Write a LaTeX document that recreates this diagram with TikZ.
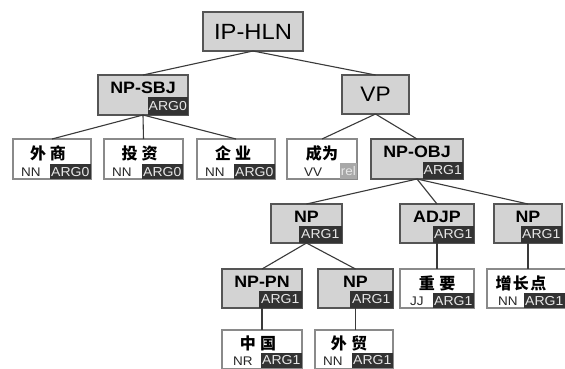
\documentclass[tikz,border=0pt]{standalone}
\usepackage{fontspec}
\setmainfont{Liberation Sans}[FakeStretch=1.08]
\newfontfamily\cjk{Noto Sans CJK SC}
\definecolor{phrfill}{HTML}{D3D3D3}
\definecolor{phrdraw}{HTML}{555555}
\definecolor{leafdraw}{HTML}{8A8A8A}
\definecolor{tagfill}{HTML}{333333}
\definecolor{tagtext}{HTML}{E8E8E8}
\definecolor{relfill}{HTML}{A8A8A8}
\definecolor{linecol}{HTML}{3A3A3A}
\tikzset{
  phr/.style={rectangle, draw=phrdraw, fill=phrfill, line width=1.3pt, inner sep=0pt, outer sep=0pt, anchor=north west},
  leaf/.style={rectangle, draw=leafdraw, fill=white, line width=1.3pt, inner sep=0pt, outer sep=0pt, anchor=north west, minimum height=40pt},
  tagbox/.style={rectangle, fill=tagfill, text=tagtext, inner sep=0pt, anchor=south east, minimum width=41pt, minimum height=17pt, font=\fontsize{13}{13}\selectfont},
  ltag/.style={tagbox, minimum height=14.5pt, font=\fontsize{13}{13}\selectfont},
  reltag/.style={tagbox, fill=relfill, minimum width=17pt, minimum height=16pt, font=\fontsize{12.5}{12.5}\selectfont},
  hl/.style={font=\fontsize{16.5}{17}\selectfont\bfseries, anchor=base, inner sep=0pt},
  biglab/.style={font=\fontsize{21}{22}\selectfont, inner sep=0pt},
  zh/.style={font=\cjk\bfseries\fontsize{16}{16}\selectfont, inner sep=0pt},
  poslab/.style={font=\fontsize{12.5}{13}\selectfont, anchor=base west, inner sep=0pt, text=black!85},
  link/.style={draw=linecol, line width=1.1pt}
}
\begin{document}
\begin{tikzpicture}[x=1pt,y=-1pt]
\useasboundingbox (0,0) rectangle (565,369);
\fill[white] (0,0) rectangle (565,369);
\clip (0,0) rectangle (565,369);

% phrase boxes
\node[phr, minimum width=100pt, minimum height=39pt] (ip) at (203,12) {};
\node[biglab, font=\fontsize{22}{23}\selectfont] (ipl) at (ip.center) {IP-HLN};

\node[phr, minimum width=90pt, minimum height=40pt] (npsbj) at (98,75) {};
\node[hl] (npsbjl) at ([yshift=-18pt]npsbj.north) {NP-SBJ};
\node[tagbox, minimum width=40pt, minimum height=18pt] (npsbjt) at (npsbj.south east) {ARG0};

\node[phr, minimum width=67pt, minimum height=39pt] (vp) at (342,75) {};
\node[biglab] (vpl) at (vp.center) {VP};

\node[phr, minimum width=92pt, minimum height=40pt] (npobj) at (371,139) {};
\node[hl] (npobjl) at ([yshift=-18pt]npobj.north) {NP-OBJ};
\node[tagbox, minimum width=40pt] (npobjt) at (npobj.south east) {ARG1};

\node[phr, minimum width=71pt, minimum height=39pt] (npa) at (271,204) {};
\node[hl] (npal) at ([yshift=-18pt]npa.north) {NP};
\node[tagbox, minimum width=43pt] (npat) at (npa.south east) {ARG1};

\node[phr, minimum width=74pt, minimum height=39pt] (adjp) at (400,204) {};
\node[hl] (adjpl) at ([yshift=-18pt]adjp.north) {ADJP};
\node[tagbox] (adjpt) at (adjp.south east) {ARG1};

\node[phr, minimum width=68pt, minimum height=39pt] (npb) at (494,204) {};
\node[hl] (npbl) at ([yshift=-18pt]npb.north) {NP};
\node[tagbox] (npbt) at (npb.south east) {ARG1};

\node[phr, minimum width=80pt, minimum height=39pt] (nppn) at (222,269) {};
\node[hl] (nppnl) at ([yshift=-18pt]nppn.north) {NP-PN};
\node[tagbox, minimum width=43pt] (nppnt) at (nppn.south east) {ARG1};

\node[phr, minimum width=75pt, minimum height=39pt] (npc) at (318,269) {};
\node[hl] (npcl) at ([yshift=-18pt]npc.north) {NP};
\node[tagbox, minimum width=43pt] (npct) at (npc.south east) {ARG1};

% leaves
\node[leaf, minimum width=78pt] (ws) at (13,139) {};
\node[zh] (wsz) at ([xshift=-4pt,yshift=-14pt]ws.north) {外\hspace{4pt}商};
\node[poslab] (wsp) at ([xshift=8pt,yshift=3pt]ws.south west) {NN};
\node[ltag] (wst) at (ws.south east) {ARG0};

\node[leaf, minimum width=79pt] (tz) at (104,139) {};
\node[zh] (tzz) at ([xshift=-4pt,yshift=-14pt]tz.north) {投\hspace{4pt}资};
\node[poslab] (tzp) at ([xshift=8pt,yshift=3pt]tz.south west) {NN};
\node[ltag] (tzt) at (tz.south east) {ARG0};

\node[leaf, minimum width=78pt] (qy) at (197,139) {};
\node[zh] (qyz) at ([xshift=-3pt,yshift=-14pt]qy.north) {企\hspace{4pt}业};
\node[poslab] (qyp) at ([xshift=8pt,yshift=3pt]qy.south west) {NN};
\node[ltag] (qyt) at (qy.south east) {ARG0};

\node[leaf, minimum width=70pt] (cw) at (287,139) {};
\node[zh] (cwz) at ([yshift=-14pt]cw.north) {成\hspace{0.5pt}为};
\node[poslab] (cwp) at ([xshift=17pt,yshift=3pt]cw.south west) {VV};
\node[reltag] (cwt) at (cw.south east) {rel};

\node[leaf, minimum width=74pt, minimum height=39pt] (zy) at (400,269) {};
\node[zh] (zyz) at ([yshift=-14pt]zy.north) {重\hspace{4.5pt}要};
\node[poslab] (zyp) at ([xshift=10pt,yshift=3pt]zy.south west) {JJ};
\node[ltag] (zyt) at (zy.south east) {ARG1};

\node[leaf, minimum width=80pt, minimum height=39pt] (zz) at (487,269) {};
\node[zh] (zzz) at ([xshift=-6pt,yshift=-14pt]zz.north) {增\hspace{1.5pt}长\hspace{1.5pt}点};
\node[poslab] (zzp) at ([xshift=11pt,yshift=3pt]zz.south west) {NN};
\node[ltag] (zzt) at ([xshift=-2pt]zz.south east) {ARG1};

\node[leaf, minimum width=80pt, minimum height=38.5pt] (zg) at (222,330) {};
\node[zh] (zgz) at ([xshift=-4pt,yshift=-13pt]zg.north) {中\hspace{4.5pt}国};
\node[poslab] (zgp) at ([xshift=11pt,yshift=3pt]zg.south west) {NR};
\node[ltag] (zgt) at ([yshift=0.7pt]zg.south east) {ARG1};

\node[leaf, minimum width=78pt, minimum height=38.5pt] (wm) at (315,330) {};
\node[zh] (wmz) at ([xshift=-5pt,yshift=-13pt]wm.north) {外\hspace{4.5pt}贸};
\node[poslab] (wmp) at ([xshift=8pt,yshift=3pt]wm.south west) {NN};
\node[ltag] (wmt) at ([yshift=0.7pt]wm.south east) {ARG1};

% connectors
\draw[link] (ip.south) -- (npsbj.north);
\draw[link] (ip.south) -- (vp.north);
\draw[link] (npsbj.south) -- (ws.north);
\draw[link] (npsbj.south) -- (tz.north);
\draw[link] (npsbj.south) -- (qy.north);
\draw[link] (vp.south) -- (cw.north);
\draw[link] (vp.south) -- (npobj.north);
\draw[link] (npobj.south) -- (npa.north);
\draw[link] (npobj.south) -- (adjp.north);
\draw[link] (npobj.south) -- (npb.north);
\draw[link] (npa.south) -- (nppn.north);
\draw[link] (npa.south) -- (npc.north);
\draw[link] (adjp.south) -- (zy.north);
\draw[link] (npb.south) -- (npb.south |- zz.north);
\draw[link] (nppn.south) -- (zg.north);
\draw[link] (npc.south) -- (npc.south |- wm.north);
\end{tikzpicture}
\end{document}
